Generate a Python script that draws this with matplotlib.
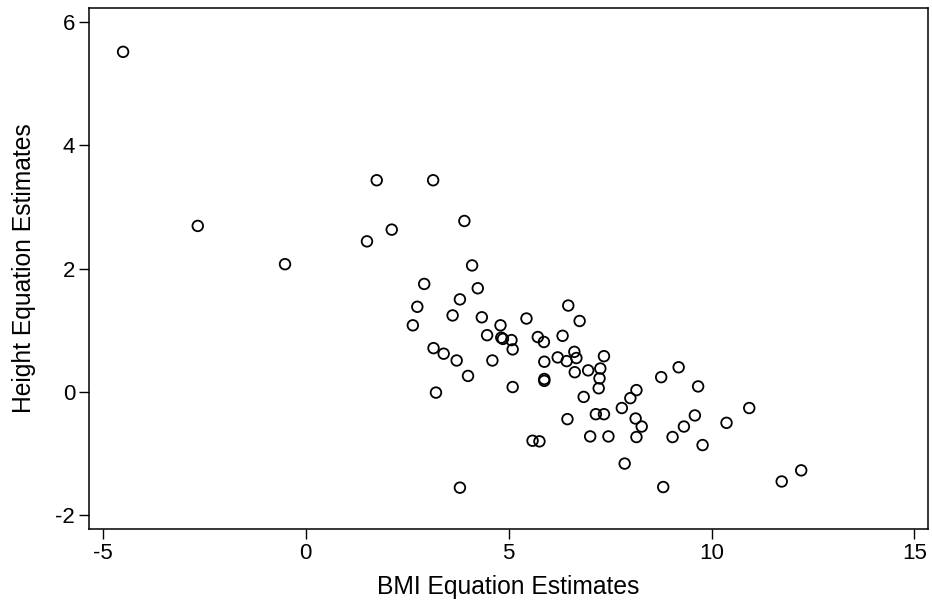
import numpy as np
import matplotlib.pyplot as plt

plt.rcParams['font.family'] = ['Liberation Sans', 'DejaVu Sans']
plt.rcParams['axes.unicode_minus'] = False

bmi = [-4.50, -2.66, -0.51, 1.75, 3.14, 3.91, 2.12, 1.51, 4.10, 2.92,
       4.24, 3.80, 2.75, 3.62, 4.34, 5.44, 2.64, 4.80, 4.47, 4.82,
       4.86, 5.07, 5.10, 5.72, 5.87, 6.47, 6.75, 6.33, 3.15, 3.40,
       3.72, 4.60, 4.00, 3.21, 5.10, 5.88, 5.88, 5.88, 6.21, 6.43,
       6.62, 6.67, 7.35, 6.63, 6.96, 7.26, 7.24, 7.22, 6.85, 7.15,
       7.35, 6.45, 7.01, 7.46, 5.59, 5.76, 3.80, 7.86, 8.15, 8.00,
       7.79, 8.13, 8.28, 8.15, 8.76, 9.19, 8.81, 9.04, 9.32, 9.59,
       9.67, 9.78, 10.37, 10.93, 11.73, 12.21]
height = [5.51, 2.69, 2.07, 3.43, 3.43, 2.77, 2.63, 2.44, 2.05, 1.75,
          1.68, 1.50, 1.38, 1.24, 1.21, 1.19, 1.08, 1.08, 0.92, 0.88,
          0.86, 0.84, 0.69, 0.89, 0.81, 1.40, 1.15, 0.91, 0.71, 0.62,
          0.51, 0.51, 0.26, -0.01, 0.08, 0.49, 0.21, 0.18, 0.56, 0.50,
          0.65, 0.55, 0.58, 0.32, 0.35, 0.38, 0.22, 0.06, -0.08, -0.36,
          -0.36, -0.44, -0.72, -0.72, -0.79, -0.80, -1.55, -1.16, 0.03, -0.10,
          -0.26, -0.43, -0.56, -0.73, 0.24, 0.40, -1.54, -0.73, -0.56, -0.38,
          0.09, -0.86, -0.50, -0.26, -1.45, -1.27]

fig = plt.figure(figsize=(9.32, 6.03), dpi=100)
ax = fig.add_axes([0.0955, 0.1227, 0.9, 0.864])

ax.scatter(bmi, height, s=58, facecolors='none', edgecolors='black', linewidths=1.3)

ax.set_xlim(-5.34, 15.33)
ax.set_ylim(-2.22, 6.22)
ax.set_xticks([-5, 0, 5, 10, 15])
ax.set_yticks([-2, 0, 2, 4, 6])
ax.tick_params(length=7, width=1.0, labelsize=16, pad=3, color='black')
for s in ax.spines.values():
    s.set_linewidth(1.1)

ax.set_xlabel('BMI Equation Estimates', fontsize=17.7, labelpad=8)
ax.set_ylabel('Height Equation Estimates', fontsize=17.7, labelpad=14)

fig.savefig('out.png', dpi=100)
